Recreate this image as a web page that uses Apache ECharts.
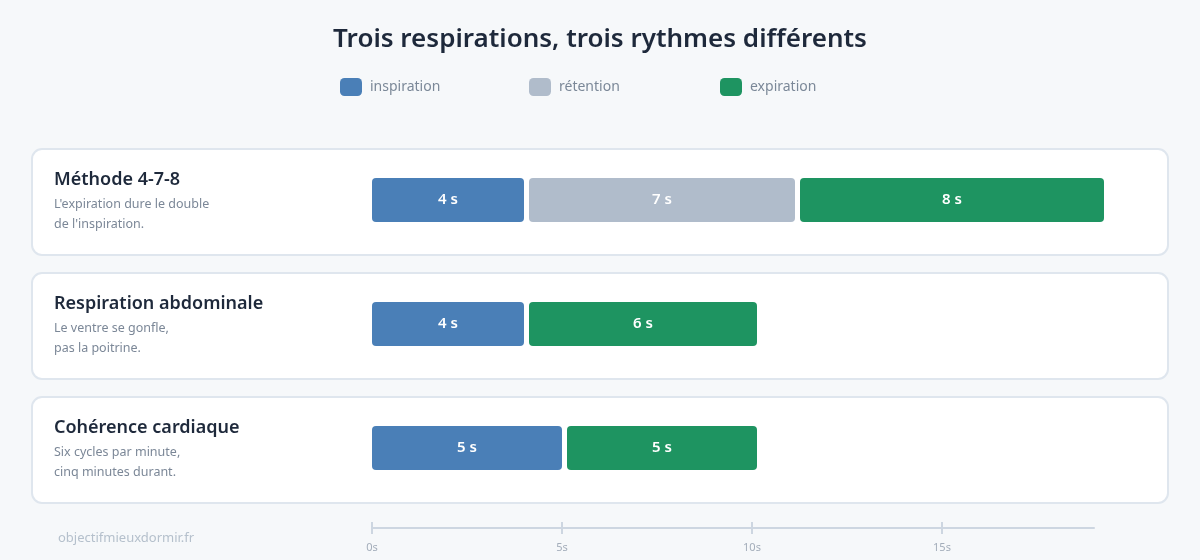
<!DOCTYPE html>
<html>
<head>
<meta charset="utf-8">
<script src="https://cdn.jsdelivr.net/npm/echarts@6/dist/echarts.min.js"></script>
<style>
  html, body { margin: 0; padding: 0; background: #f6f8fa; }
  #chart { width: 1200px; height: 560px; }
</style>
</head>
<body>
<div id="chart"></div>
<script>
const methods = ['Méthode 4-7-8', 'Respiration abdominale', 'Cohérence cardiaque']
const descriptions = [
  ["L'expiration dure le double", "de l'inspiration."],
  ['Le ventre se gonfle,', 'pas la poitrine.'],
  ['Six cycles par minute,', 'cinq minutes durant.']
]
const phases = ['inspiration', 'rétention', 'expiration']
const inspiration = [4, 4, 5]
const retention = [7, 0, 0]
const expiration = [8, 6, 5]
const axisTicks = [0, 5, 10, 15]
const colors = ['#4a7fb7', '#b0bccb', '#1e9461']
const legendLeft = [340, 529, 720]

// start, duree, ligne, nombre d'espaces avant
const phaseValues = [inspiration, retention, expiration]
const phaseData = phaseValues.map(() => [])
methods.forEach((m, row) => {
  let start = 0
  let gaps = 0
  phaseValues.forEach((vals, p) => {
    const d = vals[row]
    if (d > 0) {
      phaseData[p].push([start, d, row, gaps])
      start += d
      gaps += 1
    }
  })
})

const GAP = 5
const BAR_H = 44

function renderPhase (params, api) {
  const y = api.coord([0, api.value(2)])[1]
  const x = api.coord([api.value(0), 0])[0] + api.value(3) * GAP
  const w = api.size([api.value(1), 0])[0]
  return {
    type: 'rect',
    shape: { x: x, y: y - BAR_H / 2, width: w, height: BAR_H, r: 4 },
    style: { fill: api.visual('color') },
    textContent: {
      style: {
        text: api.value(1) + ' s',
        fill: '#ffffff',
        font: '600 15px "Noto Sans"'
      }
    },
    textConfig: { position: 'inside' }
  }
}

function renderCard (params, api) {
  const y = api.coord([0, api.value(2)])[1]
  return {
    type: 'rect',
    shape: { x: 32, y: y - 51, width: 1136, height: 106, r: 10 },
    style: { fill: '#ffffff', stroke: '#dfe6ee', lineWidth: 2 },
    silent: true
  }
}

const series = [{
  type: 'custom',
  name: 'cards',
  renderItem: renderCard,
  data: methods.map((m, i) => [0, 0, i]),
  encode: { x: 0, y: 2 },
  z: 0,
  silent: true
}]
phases.forEach((name, p) => {
  series.push({
    type: 'custom',
    name: name,
    renderItem: renderPhase,
    data: phaseData[p],
    encode: { x: [0, 1], y: 2 },
    itemStyle: { color: colors[p] },
    z: 2
  })
})

const legends = phases.map((name, p) => ({
  data: [name],
  left: legendLeft[p],
  top: 78,
  padding: 0,
  icon: 'roundRect',
  itemWidth: 22,
  itemHeight: 18,
  itemGap: 8,
  textStyle: { fontSize: 14, color: '#7b8898', padding: [2, 0, 0, 3] }
}))

const chart = echarts.init(document.getElementById('chart'))
chart.setOption({
  backgroundColor: '#f6f8fa',
  color: colors,
  textStyle: { fontFamily: 'Noto Sans' },
  title: {
    text: 'Trois respirations, trois rythmes différents',
    left: 'center',
    top: 22,
    textStyle: { fontSize: 26, fontWeight: 600, color: '#1e293b' }
  },
  legend: legends,
  graphic: [{
    type: 'text',
    left: 58,
    top: 532,
    style: { text: 'objectifmieuxdormir.fr', fill: '#b5c0cc', font: '13px "Noto Sans"' }
  }],
  grid: { left: 372, right: 106, top: 138, bottom: 50 },
  xAxis: [{
    type: 'value',
    min: 0,
    max: 19,
    interval: 5,
    offset: 18,
    axisLine: { show: true, lineStyle: { color: '#cdd6e1', width: 2 } },
    axisTick: { show: true, length: 6, customValues: axisTicks, lineStyle: { color: '#cdd6e1', width: 2 } },
    axisLabel: {
      color: '#a3adba',
      fontSize: 11,
      margin: 14,
      customValues: axisTicks,
      formatter: v => v + 's'
    },
    splitLine: { show: false }
  }, {
    type: 'value',
    min: 0,
    max: 19,
    interval: 5,
    position: 'bottom',
    offset: 18,
    axisLine: { show: false },
    axisTick: { show: true, inside: true, length: 6, customValues: axisTicks, lineStyle: { color: '#cdd6e1', width: 2 } },
    axisLabel: { show: false },
    splitLine: { show: false }
  }],
  yAxis: {
    type: 'category',
    data: methods,
    inverse: true,
    axisLine: { show: false },
    axisTick: { show: false },
    axisLabel: {
      align: 'left',
      margin: 318,
      formatter: (v, i) => '{t|' + v + '}\n{d|' + descriptions[i][0] + '}\n{d|' + descriptions[i][1] + '}',
      rich: {
        t: { fontSize: 18, fontWeight: 600, color: '#1e293b', lineHeight: 28 },
        d: { fontSize: 12.5, color: '#7b8797', lineHeight: 20 }
      }
    }
  },
  series: series
})
</script>
</body>
</html>
